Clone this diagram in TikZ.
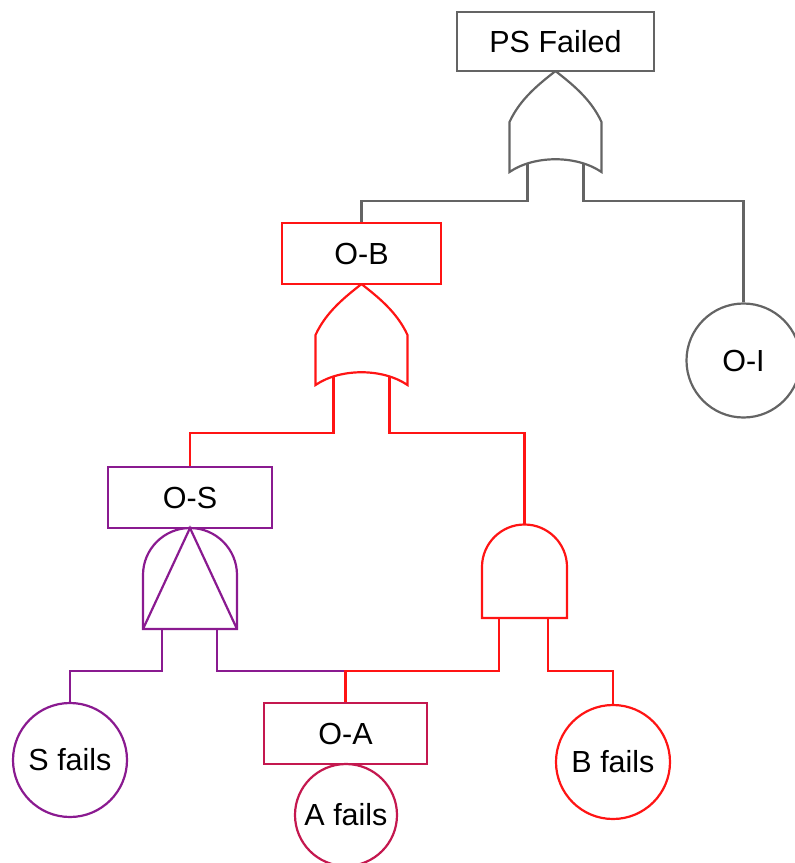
\documentclass[tikz,border=0pt]{standalone}
\usepackage{fontspec}
\setmainfont{Liberation Sans}
\definecolor{gcol}{RGB}{100,100,100}
\definecolor{rcol}{RGB}{255,20,20}
\definecolor{pcol}{RGB}{138,26,144}
\definecolor{ccol}{RGB}{196,24,79}
\begin{document}
\begin{tikzpicture}[x=1pt,y=-1pt,line width=2.2pt,line join=miter,
  lbl/.style={text=black,font=\fontsize{30.5}{36}\selectfont},
  event/.style={lbl,draw,rectangle,inner sep=0pt,fill=white},
  basic/.style={lbl,draw,circle,inner sep=0pt,fill=white,minimum size=114pt},
  ]
\useasboundingbox (0,0) rectangle (795,863);

% events
\node[event,draw=gcol,minimum width=197pt,minimum height=59pt] (ps) at (555.5,41.5) {PS Failed};
\node[event,draw=rcol,minimum width=159pt,minimum height=61pt] (ob) at (361.5,253.5) {O-B};
\node[basic,draw=gcol] (oi) at (743.5,360.5) {O-I};
\node[event,draw=pcol,minimum width=164pt,minimum height=61pt] (os) at (190,497.5) {O-S};
\node[basic,draw=pcol] (sf) at (70,760) {S fails};
\node[event,draw=ccol,minimum width=163pt,minimum height=61pt] (oa) at (345.5,733.5) {O-A};
\node[basic,draw=ccol,minimum size=102pt] (af) at (346,815) {A fails};
\node[basic,draw=rcol] (bf) at (613,762) {B fails};

% OR gate under PS Failed
\begin{scope}[shift={(555.5,71)},draw=gcol]
  \draw (0,0) .. controls (-15,12) and (-35,27) .. (-46,51) -- (-46,101)
        .. controls (-21,84) and (21,84) .. (46,101) -- (46,51)
        .. controls (35,27) and (15,12) .. (0,0);
  \coordinate (g1a) at (-28,93);
  \coordinate (g1b) at (28,93);
\end{scope}

% OR gate under O-B
\begin{scope}[shift={(361.5,284)},draw=rcol]
  \draw (0,0) .. controls (-15,12) and (-35,27) .. (-46,51) -- (-46,101)
        .. controls (-21,84) and (21,84) .. (46,101) -- (46,51)
        .. controls (35,27) and (15,12) .. (0,0);
  \coordinate (g2a) at (-28,93);
  \coordinate (g2b) at (28,93);
\end{scope}

% AND gate under O-S (with triangle)
\draw[pcol] (143,629) -- (143,575) arc[start angle=180,end angle=0,radius=47pt]
  -- (237,629) -- cycle;
\draw[pcol] (143,629) -- (190,528) -- (237,629);
\coordinate (g3top) at (190,528);
\coordinate (g3a) at (162,629);
\coordinate (g3b) at (217,629);

% AND gate feeding O-B
\draw[rcol] (482,618) -- (482,567) arc[start angle=180,end angle=0,radius=42.5pt]
  -- (567,618) -- cycle;
\coordinate (g4top) at (524.5,524.5);
\coordinate (g4a) at (499,618);
\coordinate (g4b) at (548,618);

% connectors
\draw[gcol] (g1a) -- ++(0,37) -| (ob.north);
\draw[gcol] (g1b) -- ++(0,37) -| (oi.north);
\draw[rcol] (g2a) -- ++(0,56) -| (os.north);
\draw[rcol] (g2b) -- ++(0,56) -| (g4top);
\coordinate (j) at (345.5,671);
\draw[pcol] (g3a) -- ++(0,42) -| (sf.north);
\draw[pcol] (g3b) -- ++(0,42) -- (j);
\draw[rcol] (g4a) -- ++(0,53) -- (j) -- (oa.north);
\draw[rcol] (g4b) -- ++(0,53) -| (bf.north);
\end{tikzpicture}
\end{document}
